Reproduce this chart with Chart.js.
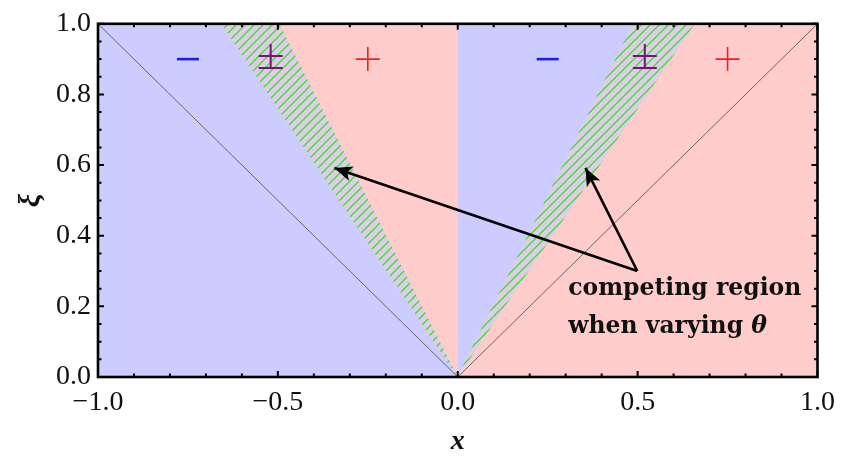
<!DOCTYPE html>
<html>
<head>
<meta charset="utf-8">
<script src="https://cdn.jsdelivr.net/npm/chart.js@4.4.0/dist/chart.umd.min.js"></script>
<style>
  html, body { margin: 0; padding: 0; background: #fff; }
  #wrap { width: 844px; height: 458px; }
</style>
</head>
<body>
<div id="wrap"><canvas id="chart"></canvas></div>
<script>
/* ======================================================
    DATA
====================================================== */
const xBounds = [-1, 1];
const yBounds = [0, 1];
const xTicksMajor = [-1, -0.5, 0, 0.5, 1];
const xTicksMinor = [-0.9, -0.8, -0.7, -0.6, -0.4, -0.3, -0.2, -0.1, 0.1, 0.2, 0.3, 0.4, 0.6, 0.7, 0.8, 0.9];
const yTicksMajor = [0, 0.2, 0.4, 0.6, 0.8, 1];
const yTicksMinor = [0.05, 0.1, 0.15, 0.25, 0.3, 0.35, 0.45, 0.5, 0.55, 0.65, 0.7, 0.75, 0.85, 0.9, 0.95];

// x where the competing-region edges reach xi = 1 (edges start at the origin)
const leftEdges = [-0.656, -0.496];
const rightEdges = [0.488, 0.659];

// thin guide lines xi = |x|
const guideX = [-1, 0, 1];
const guideY = [1, 0, 1];

// sign markers
const signX = [-0.75, -0.52, -0.25, 0.25, 0.52, 0.75];
const signKinds = ['−', '±', '+', '−', '±', '+'];
const signY = 0.9;

// annotation arrows
const arrowTail = [0.499, 0.30];
const arrowTipX = [-0.343, 0.355];
const arrowTipY = [0.592, 0.592];

// annotation text
const noteLines = ['competing region', 'when varying '];
const noteSymbol = 'θ';
const noteX = 0.307;
const noteY = [0.233, 0.125];

/* ======================================================
    STYLE HELPERS
====================================================== */
const BLUE = '#ccccff';
const PINK = '#ffcccc';
const SERIF = '"Liberation Serif", "Times New Roman", Times, serif';

function hatchPattern() {
    const s = 9;
    const c = document.createElement('canvas');
    c.width = s; c.height = s;
    const g = c.getContext('2d');
    g.fillStyle = '#dccfe4';
    g.fillRect(0, 0, s, s);
    g.strokeStyle = '#45d63c';
    g.lineWidth = 1.25;
    g.beginPath();
    g.moveTo(-1, s + 1); g.lineTo(s + 1, -1);
    g.moveTo(-1, 1); g.lineTo(1, -1);
    g.moveTo(s - 1, s + 1); g.lineTo(s + 1, s - 1);
    g.stroke();
    return g.createPattern(c, 'repeat');
}
const HATCH = hatchPattern();

const pt = (x, y) => ({ x, y });
const yHi = yBounds[1], yLo = yBounds[0];

function region(points, color, order) {
    return {
        data: points, fill: 'shape', backgroundColor: color,
        borderWidth: 1, borderColor: color, pointRadius: 0, order
    };
}

const datasets = [
    region([pt(xBounds[0], yLo), pt(xBounds[0], yHi), pt(leftEdges[0], yHi), pt(0, yLo)], BLUE, 12),
    region([pt(0, yLo), pt(0, yHi), pt(rightEdges[0], yHi)], BLUE, 12),
    region([pt(0, yLo), pt(leftEdges[1], yHi), pt(0, yHi)], PINK, 11),
    region([pt(0, yLo), pt(rightEdges[1], yHi), pt(xBounds[1], yHi), pt(xBounds[1], yLo)], PINK, 11),
    region([pt(0, yLo), pt(leftEdges[0], yHi), pt(leftEdges[1], yHi)], HATCH, 10),
    region([pt(0, yLo), pt(rightEdges[0], yHi), pt(rightEdges[1], yHi)], HATCH, 10),
    {
        data: guideX.map((x, i) => pt(x, guideY[i])),
        borderColor: '#6e6468', borderWidth: 1, pointRadius: 0, fill: false, order: 5
    }
];
arrowTipX.forEach((x, i) => {
    datasets.push({
        data: [pt(arrowTail[0], arrowTail[1]), pt(x, arrowTipY[i])],
        borderColor: '#000', borderWidth: 2.6, pointRadius: 0, fill: false, order: 1,
        arrow: true
    });
});

/* ======================================================
    PLUGINS
====================================================== */
const decorations = {
    id: 'decorations',
    afterDatasetsDraw(chart) {
        const { ctx, chartArea: a, scales: { x, y } } = chart;
        ctx.save();

        // arrow heads
        chart.data.datasets.forEach(ds => {
            if (!ds.arrow) return;
            const t = ds.data[0], h = ds.data[1];
            const x0 = x.getPixelForValue(t.x), y0 = y.getPixelForValue(t.y);
            const x1 = x.getPixelForValue(h.x), y1 = y.getPixelForValue(h.y);
            const ang = Math.atan2(y1 - y0, x1 - x0);
            const len = 18, half = 7.5;
            ctx.fillStyle = '#000';
            ctx.beginPath();
            ctx.moveTo(x1, y1);
            ctx.lineTo(x1 - len * Math.cos(ang) + half * Math.sin(ang), y1 - len * Math.sin(ang) - half * Math.cos(ang));
            ctx.lineTo(x1 - len * 0.75 * Math.cos(ang), y1 - len * 0.75 * Math.sin(ang));
            ctx.lineTo(x1 - len * Math.cos(ang) - half * Math.sin(ang), y1 - len * Math.sin(ang) + half * Math.cos(ang));
            ctx.closePath();
            ctx.fill();
        });

        // sign markers
        ctx.lineCap = 'butt';
        signX.forEach((sx, i) => {
            const px = x.getPixelForValue(sx), py = y.getPixelForValue(signY);
            ctx.beginPath();
            if (signKinds[i] === '−') {
                ctx.strokeStyle = '#1c1ce6'; ctx.lineWidth = 2.6;
                ctx.moveTo(px - 11, py); ctx.lineTo(px + 11, py);
            } else if (signKinds[i] === '+') {
                ctx.strokeStyle = '#ee2020'; ctx.lineWidth = 1.6;
                ctx.moveTo(px - 12, py); ctx.lineTo(px + 12, py);
                ctx.moveTo(px, py - 12); ctx.lineTo(px, py + 12);
            } else {
                ctx.strokeStyle = '#7d1080'; ctx.lineWidth = 2;
                ctx.moveTo(px - 12, py - 3); ctx.lineTo(px + 12, py - 3);
                ctx.moveTo(px, py - 15); ctx.lineTo(px, py + 9);
                ctx.moveTo(px - 12, py + 9); ctx.lineTo(px + 12, py + 9);
            }
            ctx.stroke();
        });

        // annotation text
        ctx.fillStyle = '#111';
        ctx.textBaseline = 'alphabetic';
        ctx.textAlign = 'left';
        noteLines.forEach((line, i) => {
            const px = x.getPixelForValue(noteX), py = y.getPixelForValue(noteY[i]);
            ctx.font = 'bold 23.5px "DejaVu Serif"';
            ctx.fillText(line, px, py);
            if (i === noteLines.length - 1) {
                const w = ctx.measureText(line).width;
                ctx.font = 'bold italic 23.5px "DejaVu Serif"';
                ctx.fillText(noteSymbol, px + w, py);
            }
        });

        // frame and inward ticks
        ctx.strokeStyle = '#000';
        ctx.lineWidth = 2;
        ctx.beginPath();
        const tickX = (list, len) => list.forEach(v => {
            const px = x.getPixelForValue(v);
            ctx.moveTo(px, a.bottom); ctx.lineTo(px, a.bottom - len);
            ctx.moveTo(px, a.top); ctx.lineTo(px, a.top + len);
        });
        const tickY = (list, len) => list.forEach(v => {
            const py = y.getPixelForValue(v);
            ctx.moveTo(a.left, py); ctx.lineTo(a.left + len, py);
            ctx.moveTo(a.right, py); ctx.lineTo(a.right - len, py);
        });
        tickX(xTicksMajor, 6); tickX(xTicksMinor, 3.5);
        tickY(yTicksMajor, 6); tickY(yTicksMinor, 3.5);
        ctx.stroke();
        ctx.lineWidth = 2.6;
        ctx.strokeRect(a.left, a.top, a.right - a.left, a.bottom - a.top);
        ctx.restore();
    }
};

/* ======================================================
    CHART
====================================================== */
const fmt = v => (v < 0 ? '−' : '') + Math.abs(v).toFixed(1);

new Chart(document.getElementById('chart').getContext('2d'), {
    type: 'line',
    data: { datasets },
    options: {
        responsive: true,
        maintainAspectRatio: false,
        animation: false,
        layout: { padding: { top: 17, right: 24, left: 0, bottom: 0 } },
        elements: { line: { tension: 0 } },
        plugins: { legend: { display: false }, tooltip: { enabled: false } },
        scales: {
            x: {
                type: 'linear', min: xBounds[0], max: xBounds[1],
                afterBuildTicks: s => { s.ticks = xTicksMajor.map(v => ({ value: v })); },
                afterFit: s => { s.height = 81; },
                grid: { display: false, drawTicks: false },
                border: { display: false },
                ticks: { callback: fmt, color: '#111', padding: 9, maxRotation: 0,
                         font: { family: SERIF, size: 28 } },
                title: { display: true, text: 'x', color: '#111', padding: { top: 0, bottom: 2 },
                         font: { family: SERIF, size: 28, style: 'italic', weight: 'bold', lineHeight: 1 } }
            },
            y: {
                type: 'linear', min: yBounds[0], max: yBounds[1],
                afterBuildTicks: s => { s.ticks = yTicksMajor.map(v => ({ value: v })); },
                afterFit: s => { s.width = 98; },
                grid: { display: false, drawTicks: false },
                border: { display: false },
                ticks: { callback: fmt, color: '#111', padding: 7,
                         font: { family: SERIF, size: 28 } },
                title: { display: true, text: 'ξ', color: '#111', padding: { top: 16, bottom: 0 },
                         font: { family: SERIF, size: 30, style: 'italic', weight: 'bold', lineHeight: 1 } }
            }
        }
    },
    plugins: [decorations]
});
</script>
</body>
</html>
